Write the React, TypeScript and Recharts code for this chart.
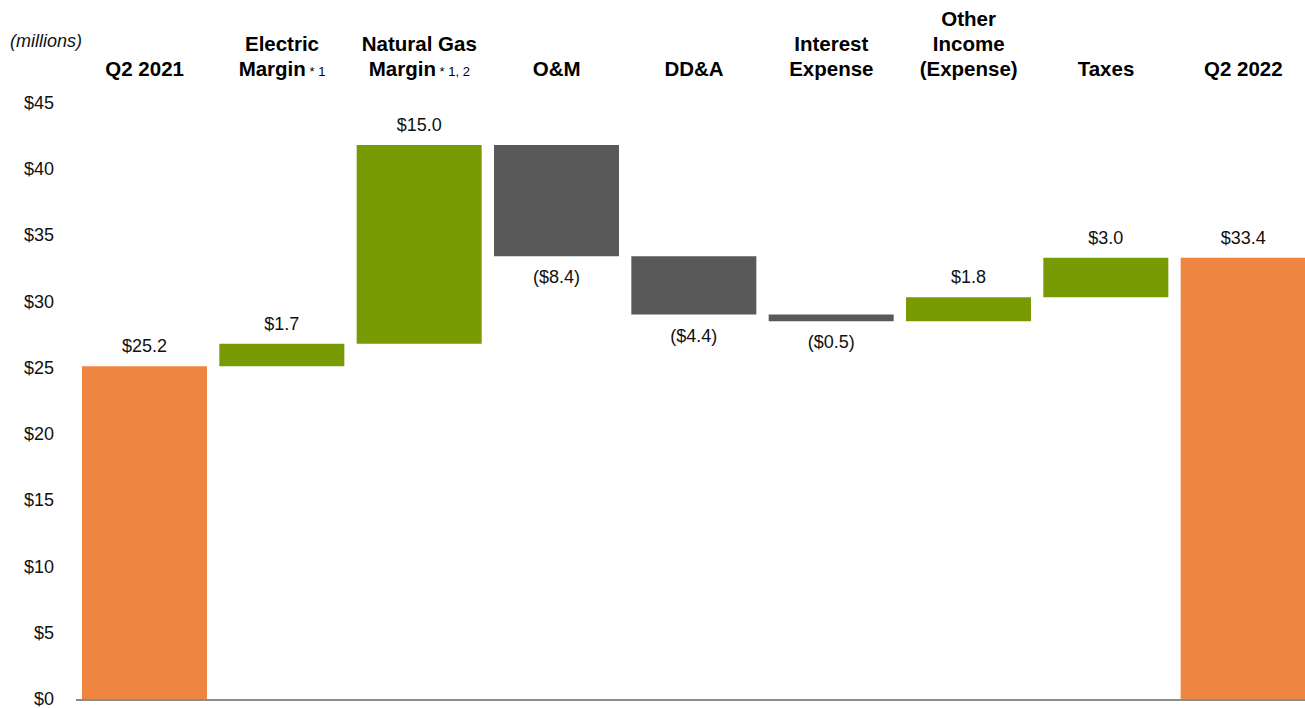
import React from "react";
import {
  BarChart,
  Bar,
  XAxis,
  YAxis,
  Cell,
  LabelList,
  ReferenceLine,
} from "recharts";

// header lines per category; the last line may carry a footnote marker
const categories = [
  "Q2 2021",
  "Electric Margin",
  "Natural Gas Margin",
  "O&M",
  "DD&A",
  "Interest Expense",
  "Other Income (Expense)",
  "Taxes",
  "Q2 2022",
];
const headerLines: string[][] = [
  ["Q2 2021"],
  ["Electric", "Margin"],
  ["Natural Gas", "Margin"],
  ["O&M"],
  ["DD&A"],
  ["Interest", "Expense"],
  ["Other", "Income", "(Expense)"],
  ["Taxes"],
  ["Q2 2022"],
];
const footnotes = ["", "* 1", "* 1, 2", "", "", "", "", "", ""];

// first and last entries are totals, the rest are changes
const amounts = [25.2, 1.7, 15.0, -8.4, -4.4, -0.5, 1.8, 3.0, 33.4];
const isTotal = [true, false, false, false, false, false, false, false, true];

const yTicks = [0, 5, 10, 15, 20, 25, 30, 35, 40, 45];

const ORANGE = "#ee8540";
const GREEN = "#789a03";
const GRAY = "#595959";
const FONT = "'Liberation Sans', Arial, sans-serif";

let running = 0;
const rows = categories.map((name, i) => {
  const v = amounts[i];
  if (isTotal[i]) {
    running = v;
    return { name, base: 0, size: v, delta: v, total: true };
  }
  const start = running;
  running = start + v;
  return {
    name,
    base: Math.min(start, running),
    size: Math.abs(v),
    delta: v,
    total: false,
  };
});

const money = (v: number) =>
  v < 0 ? `($${Math.abs(v).toFixed(1)})` : `$${v.toFixed(1)}`;

function HeaderTick(props: any) {
  const { x, index } = props;
  const lines = headerLines[index] || [];
  const last = 76;
  return (
    <g>
      {lines.map((line, k) => {
        const isLast = k === lines.length - 1;
        return (
          <text
            key={k}
            x={x}
            y={last - (lines.length - 1 - k) * 25}
            textAnchor="middle"
            fontFamily={FONT}
            fontSize={20.5}
            fontWeight="bold"
            fill="#000"
          >
            {line}
            {isLast && footnotes[index] ? (
              <tspan fontSize={13} fontWeight="normal">
                {" " + footnotes[index]}
              </tspan>
            ) : null}
          </text>
        );
      })}
    </g>
  );
}

function ValueLabel(props: any) {
  const { x, y, width, height, value } = props;
  const neg = value < 0;
  const ty = neg ? y + height + 27 : y - 14;
  return (
    <text
      x={x + width / 2}
      y={ty}
      textAnchor="middle"
      fontFamily={FONT}
      fontSize={18}
      fill="#111"
    >
      {money(value)}
    </text>
  );
}

// y-axis tick text, baseline a touch above the usual centring so $0 fits
function MoneyTick(props: any) {
  const { x, y, payload } = props;
  return (
    <text
      x={x}
      y={y + 5}
      textAnchor="end"
      fontFamily={FONT}
      fontSize={18}
      fill="#111"
    >
      {`$${payload.value}`}
    </text>
  );
}

export default function App() {
  return (
    <div
      style={{
        position: "absolute",
        left: 0,
        top: 0,
        width: 1305,
        height: 708,
        overflow: "hidden",
        background: "#fff",
      }}
    >
      <div
        style={{
          position: "absolute",
          left: 10,
          top: 31,
          fontFamily: FONT,
          fontSize: 18,
          fontStyle: "italic",
          color: "#111",
        }}
      >
        (millions)
      </div>
      <BarChart
        width={1312}
        height={708}
        data={rows}
        margin={{ top: 0, right: 0, bottom: 8, left: 0 }}
        barSize={125}
      >
        <XAxis
          dataKey="name"
          orientation="top"
          height={104}
          axisLine={false}
          tickLine={false}
          interval={0}
          tick={<HeaderTick />}
        />
        <YAxis
          width={76}
          domain={[0, 45]}
          ticks={yTicks}
          interval={0}
          axisLine={false}
          tickLine={false}
          tickMargin={16}
          tick={<MoneyTick />}
        />
        <Bar
          dataKey="base"
          stackId="w"
          fill="transparent"
          isAnimationActive={false}
        />
        <Bar dataKey="size" stackId="w" isAnimationActive={false}>
          {rows.map((r, i) => (
            <Cell
              key={i}
              fill={r.total ? ORANGE : r.delta < 0 ? GRAY : GREEN}
            />
          ))}
          <LabelList dataKey="delta" content={<ValueLabel />} />
        </Bar>
        <ReferenceLine y={0} stroke="#8c8c8c" strokeWidth={2} />
      </BarChart>
    </div>
  );
}
